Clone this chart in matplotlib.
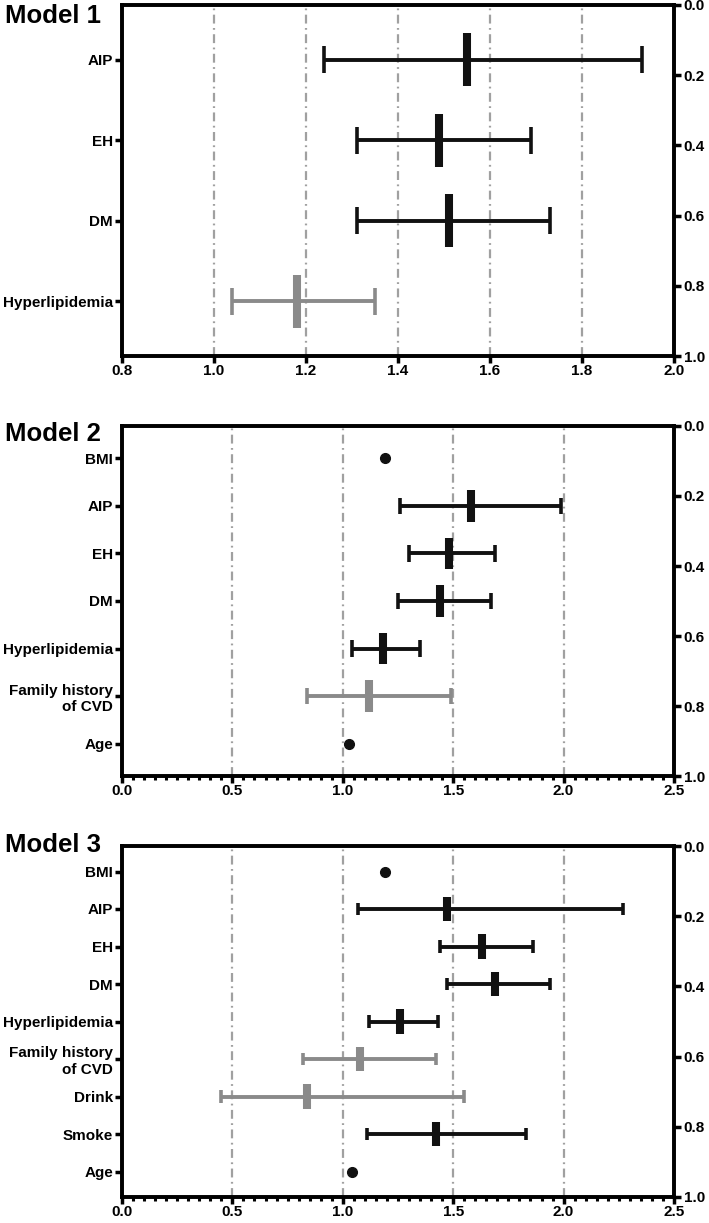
import numpy as np
import matplotlib
matplotlib.use("Agg")
import matplotlib.pyplot as plt
from matplotlib.ticker import MultipleLocator, FormatStrFormatter

plt.rcParams['font.family'] = ['Liberation Sans', 'DejaVu Sans']
plt.rcParams['font.weight'] = 'bold'

nan = np.nan

# ---------------- data (odds ratio, 95% CI) ----------------
m1_labels = ["AIP", "EH", "DM", "Hyperlipidemia"]
m1_or = [1.55, 1.49, 1.51, 1.18]
m1_lo = [1.24, 1.31, 1.31, 1.04]
m1_hi = [1.93, 1.69, 1.73, 1.35]
m1_grey = [0, 0, 0, 1]

m2_labels = ["BMI", "AIP", "EH", "DM", "Hyperlipidemia", "Family history\nof CVD", "Age"]
m2_or = [1.19, 1.58, 1.48, 1.44, 1.18, 1.12, 1.03]
m2_lo = [nan, 1.26, 1.30, 1.25, 1.04, 0.84, nan]
m2_hi = [nan, 1.99, 1.69, 1.67, 1.35, 1.49, nan]
m2_grey = [0, 0, 0, 0, 0, 1, 0]

m3_labels = ["BMI", "AIP", "EH", "DM", "Hyperlipidemia", "Family history\nof CVD",
             "Drink", "Smoke", "Age"]
m3_or = [1.19, 1.47, 1.63, 1.69, 1.26, 1.08, 0.84, 1.42, 1.04]
m3_lo = [nan, 1.07, 1.44, 1.47, 1.12, 0.82, 0.45, 1.11, nan]
m3_hi = [nan, 2.27, 1.86, 1.94, 1.43, 1.42, 1.55, 1.83, nan]
m3_grey = [0, 0, 0, 0, 0, 1, 1, 0, 0]

panels = [
    ("Model 1", m1_labels, m1_or, m1_lo, m1_hi, m1_grey, (0.8, 2.0), 0.2, None, [1.0, 1.2, 1.4, 1.6, 1.8]),
    ("Model 2", m2_labels, m2_or, m2_lo, m2_hi, m2_grey, (0.0, 2.5), 0.5, 0.05, [0.5, 1.0, 1.5, 2.0]),
    ("Model 3", m3_labels, m3_or, m3_lo, m3_hi, m3_grey, (0.0, 2.5), 0.5, 0.05, [0.5, 1.0, 1.5, 2.0]),
]

# axes boxes in pixels (top, bottom) of a 709x1223 figure, and title centre y
W, H = 709, 1223
boxes = [(5, 356), (426, 776), (846, 1197)]
title_y = [16, 434, 845]
left_px, right_px = 122, 674

BLACK = '#111111'
GREY = '#8a8a8a'
GRID = '#a0a0a0'

fig = plt.figure(figsize=(W / 100, H / 100), dpi=100)

for (title, labels, ors, los, his, grey, xlim, major, minor, grid), (top, bot), ty in zip(panels, boxes, title_y):
    ax = fig.add_axes([left_px / W, 1 - bot / H, (right_px - left_px) / W, (bot - top) / H])
    n = len(labels)
    ypos = np.arange(n)
    pad = 0.68

    for g in grid:
        ax.axvline(g, color=GRID, lw=1.6, linestyle=(0, (4, 2, 0.8, 2)), zorder=0)

    for i in range(n):
        c = GREY if grey[i] else BLACK
        if np.isnan(los[i]):
            ax.plot(ors[i], ypos[i], 'o', color=BLACK, ms=7, zorder=3)
            continue
        ax.hlines(ypos[i], los[i], his[i], color=c, lw=2.8, zorder=2)
        ax.vlines([los[i], his[i]], ypos[i] - 0.17, ypos[i] + 0.17, color=c, lw=2.6, zorder=2)
        ax.vlines(ors[i], ypos[i] - 0.33, ypos[i] + 0.33, color=c, lw=5.8, zorder=3)

    ax.set_xlim(*xlim)
    ax.set_ylim(n - 1 + pad, -pad)
    ax.xaxis.set_major_locator(MultipleLocator(major))
    if minor:
        ax.xaxis.set_minor_locator(MultipleLocator(minor))
    ax.xaxis.set_major_formatter(FormatStrFormatter('%.1f'))
    ax.set_yticks(ypos)
    ax.set_yticklabels(labels, fontsize=11, fontweight='bold')
    ax.tick_params(axis='y', length=5, width=2.5, pad=1.5)
    ax.tick_params(axis='x', which='major', length=5, width=2.5, labelsize=11, pad=1)
    ax.tick_params(axis='x', which='minor', length=3, width=2.2)
    for s in ax.spines.values():
        s.set_linewidth(2.6)

    ax2 = ax.twinx()
    ax2.set_ylim(1.0, 0.0)
    ax2.set_yticks(np.arange(0, 1.01, 0.2))
    ax2.yaxis.set_major_formatter(FormatStrFormatter('%.1f'))
    ax2.tick_params(axis='y', length=5, width=2.5, labelsize=11, pad=2)
    for s in ax2.spines.values():
        s.set_linewidth(2.6)

    fig.text(5 / W, 1 - ty / H, title, fontsize=18.5, fontweight='bold', va='center', ha='left')

fig.savefig("out.png", dpi=100)
